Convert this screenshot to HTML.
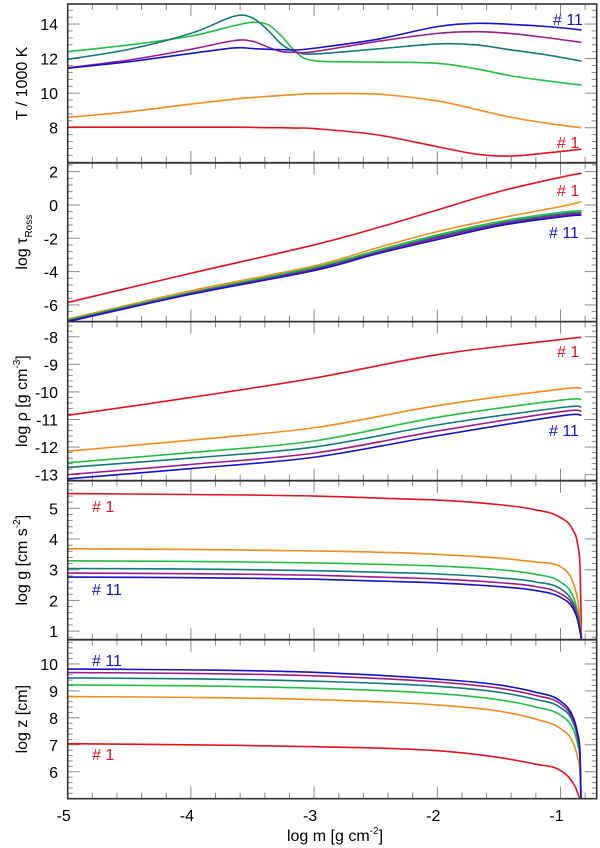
<!DOCTYPE html>
<html><head><meta charset="utf-8">
<style>
html,body{margin:0;padding:0;background:#fff;}
svg{display:block;font-family:"Liberation Sans",sans-serif;}
</style></head>
<body>
<svg id="chart" width="600" height="848" viewBox="0 0 600 848" xmlns="http://www.w3.org/2000/svg">
</svg>
<script>
// ---- data ----
const seriesNames = ["model-1","model-3","model-5","model-7","model-9","model-11"];
const seriesColors = ["#e3121c","#f28c1c","#22c040","#137a7a","#9c1c8c","#1414c8"];

const xT = [-5,-4.5,-4,-3.65,-3.5,-3.37,-3.26,-3.15,-3,-2.5,-2,-1.68,-1.4,-1.1,-0.83];
const tRed    = [8.03,8.03,8.03,8.03,8.02,8.0,8.0,7.98,7.95,7.6,6.9,6.47,6.36,6.55,6.76];
const tOrange = [8.6,8.93,9.37,9.65,9.75,9.82,9.87,9.92,9.97,9.95,9.55,9.05,8.6,8.25,8.0];
const tGreen  = [12.4,12.79,13.3,13.9,14.1,13.95,13.27,12.4,11.88,11.8,11.73,11.4,11.0,10.7,10.47];
const tTeal   = [11.96,12.54,13.46,14.45,14.35,13.6,12.8,12.4,12.27,12.55,12.85,12.79,12.5,12.2,11.86];
const tPurple = [11.47,11.92,12.54,13.04,13.0,12.65,12.4,12.36,12.4,12.98,13.46,13.56,13.45,13.2,12.94];
const tBlue   = [11.44,11.82,12.3,12.62,12.58,12.54,12.52,12.5,12.6,13.1,13.85,14.04,13.98,13.85,13.66];

const xTau = [-5,-4,-3,-2.5,-2,-1.5,-1,-0.83];
const tauRed    = [-5.85,-4.1,-2.4,-1.4,-0.3,0.8,1.66,1.9];
const tauOrange = [-6.85,-5.15,-3.66,-2.6,-1.6,-0.8,-0.1,0.2];
const tauGreen  = [-6.9,-5.25,-3.75,-2.75,-1.8,-1.0,-0.45,-0.34];
const tauTeal   = [-6.95,-5.3,-3.83,-2.85,-1.9,-1.1,-0.55,-0.44];
const tauPurple = [-6.98,-5.33,-3.88,-2.9,-1.98,-1.18,-0.63,-0.53];
const tauBlue   = [-7.0,-5.36,-3.94,-2.95,-2.08,-1.25,-0.72,-0.6];

const xRho = [-5,-4,-3,-2,-1,-0.83];
const rhoRed    = [-10.85,-10.2,-9.5,-8.65,-8.1,-8.02];
const rhoOrange = [-12.15,-11.75,-11.3,-10.5,-9.9,-9.87];
const rhoGreen  = [-12.57,-12.2,-11.78,-10.92,-10.3,-10.28];
const rhoTeal   = [-12.74,-12.4,-12.0,-11.2,-10.57,-10.55];
const rhoPurple = [-13.0,-12.63,-12.22,-11.42,-10.72,-10.7];
const rhoBlue   = [-13.15,-12.78,-12.37,-11.59,-10.87,-10.85];

const xG = [-5,-4,-3,-2.3,-2,-1.5,-1.2,-1,-0.9,-0.86,-0.84,-0.83];
const gRed    = [5.48,5.45,5.4,5.31,5.27,5.12,4.95,4.7,4.3,3.8,2.9,0.72];
const gOrange = [3.68,3.66,3.61,3.55,3.5,3.38,3.25,3.1,2.6,2.0,1.3,0.72];
const gGreen  = [3.29,3.27,3.22,3.16,3.12,3.0,2.85,2.6,2.15,1.6,1.1,0.72];
const gTeal   = [3.04,3.02,2.97,2.9,2.86,2.74,2.6,2.38,1.95,1.5,1.05,0.72];
const gPurple = [2.89,2.87,2.82,2.74,2.7,2.58,2.45,2.22,1.85,1.4,1.0,0.72];
const gBlue   = [2.76,2.74,2.69,2.61,2.57,2.45,2.32,2.1,1.75,1.35,0.95,0.72];

const xZ = [-5,-4,-3,-2,-1.5,-1.2,-1,-0.9,-0.86,-0.84,-0.83];
const zRed    = [7.04,7.0,6.93,6.78,6.53,6.28,6.05,5.6,5.2,4.8,4.0];
const zOrange = [8.79,8.76,8.68,8.48,8.25,7.95,7.6,7.1,6.5,5.8,4.0];
const zGreen  = [9.22,9.19,9.1,8.9,8.67,8.4,8.1,7.6,7.0,6.2,4.0];
const zTeal   = [9.48,9.45,9.36,9.17,8.95,8.68,8.38,7.85,7.2,6.3,4.0];
const zPurple = [9.68,9.65,9.56,9.33,9.1,8.83,8.52,7.95,7.3,6.4,4.0];
const zBlue   = [9.81,9.78,9.69,9.44,9.22,8.95,8.62,8.05,7.4,6.5,4.0];

const xTickLabels = ["-5","-4","-3","-2","-1"];

// ---- layout ----
const NS = "http://www.w3.org/2000/svg";
const svg = document.getElementById("chart");
const X0 = 67.7, X1 = 596.7, XMIN = -5, XMAX = -5 + (X1 - X0) / 123.2;
function xs(v){ return X0 + (v - XMIN) * 123.2; }

const panels = [
  {name:"temperature", top:4, bot:162.8, ymin:5.97, ymax:15.16, major:2, minor:0.4, ticks:[8,10,12,14],
   xd:xT, ys:[tRed,tOrange,tGreen,tTeal,tPurple,tBlue], smooth:"cr", lab1:[557,148], lab11:[553,25]},
  {name:"tau-ross", top:162.8, bot:321.6, ymin:-7.0, ymax:2.53, major:2, minor:0.4, ticks:[-6,-4,-2,0,2],
   xd:xTau, ys:[tauRed,tauOrange,tauGreen,tauTeal,tauPurple,tauBlue], smooth:"cr", lab1:[557,196], lab11:[549,238]},
  {name:"density", top:321.6, bot:480.7, ymin:-13.22, ymax:-7.45, major:1, minor:0.2, ticks:[-13,-12,-11,-10,-9,-8],
   xd:xRho, ys:[rhoRed,rhoOrange,rhoGreen,rhoTeal,rhoPurple,rhoBlue], smooth:"cr", lab1:[557,357], lab11:[549,436]},
  {name:"gravity", top:480.7, bot:639.7, ymin:0.72, ymax:5.9, major:1, minor:0.2, ticks:[1,2,3,4,5],
   xd:xG, ys:[gRed,gOrange,gGreen,gTeal,gPurple,gBlue], smooth:"mono", lab1:[92,512], lab11:[92,595]},
  {name:"height", top:639.7, bot:798.7, ymin:5.0, ymax:10.9, major:1, minor:0.2, ticks:[6,7,8,9,10],
   xd:xZ, ys:[zRed,zOrange,zGreen,zTeal,zPurple,zBlue], smooth:"mono", lab1:[92,760], lab11:[92,666]}
];

function el(tag, attrs, parent){
  const e = document.createElementNS(NS, tag);
  for (const k in attrs) e.setAttribute(k, attrs[k]);
  (parent||svg).appendChild(e);
  return e;
}

function crPath(px, py){
  const n = px.length;
  let p = "M"+px[0].toFixed(2)+","+py[0].toFixed(2);
  for (let i=0;i<n-1;i++){
    const x0 = i>0?px[i-1]:px[i], y0 = i>0?py[i-1]:py[i];
    const x3 = i<n-2?px[i+2]:px[i+1], y3 = i<n-2?py[i+2]:py[i+1];
    const c1x = px[i]+(px[i+1]-x0)/6, c1y = py[i]+(py[i+1]-y0)/6;
    const c2x = px[i+1]-(x3-px[i])/6, c2y = py[i+1]-(y3-py[i])/6;
    p += " C"+c1x.toFixed(2)+","+c1y.toFixed(2)+" "+c2x.toFixed(2)+","+c2y.toFixed(2)+" "+px[i+1].toFixed(2)+","+py[i+1].toFixed(2);
  }
  return p;
}

function monoPath(px, py){
  const n = px.length, d = [], m = new Array(n);
  for (let i=0;i<n-1;i++) d.push((py[i+1]-py[i])/(px[i+1]-px[i]));
  m[0]=d[0]; m[n-1]=d[n-2];
  for (let i=1;i<n-1;i++){ m[i] = (d[i-1]*d[i] <= 0) ? 0 : (d[i-1]+d[i])/2; }
  for (let i=0;i<n-1;i++){
    if (d[i]===0){ m[i]=0; m[i+1]=0; continue; }
    const a=m[i]/d[i], b=m[i+1]/d[i], s=a*a+b*b;
    if (s>9){ const t=3/Math.sqrt(s); m[i]=t*a*d[i]; m[i+1]=t*b*d[i]; }
  }
  let p = "M"+px[0].toFixed(2)+","+py[0].toFixed(2);
  for (let i=0;i<n-1;i++){
    const h=px[i+1]-px[i];
    p += " C"+(px[i]+h/3).toFixed(2)+","+(py[i]+m[i]*h/3).toFixed(2)+" "+(px[i+1]-h/3).toFixed(2)+","+(py[i+1]-m[i+1]*h/3).toFixed(2)+" "+px[i+1].toFixed(2)+","+py[i+1].toFixed(2);
  }
  return p;
}

const defs = el("defs", {});
panels.forEach((P, pi) => {
  const g = el("g", {});
  
  
  const ys = v => P.bot - (v - P.ymin) / (P.ymax - P.ymin) * (P.bot - P.top);

  const cp = el("clipPath", {id:"clip"+pi}, defs);
  el("rect", {x:X0, y:P.top, width:X1-X0, height:P.bot-P.top}, cp);

  for (let k=0; k<=Math.round((XMAX-XMIN)/0.2); k++){
    const v = XMIN + k*0.2; if (v > XMAX) break;
    const isMaj = Math.abs(v - Math.round(v)) < 1e-6;
    const L = isMaj ? 12 : 6, x = xs(v);
    const t1 = el("line", {x1:x, x2:x, y1:P.bot, y2:P.bot-L, stroke:"#8a8a8a", "stroke-width":1}, g);
    
    
    const t2 = el("line", {x1:x, x2:x, y1:P.top, y2:P.top+L, stroke:"#8a8a8a", "stroke-width":1}, g);
    
    
  }
  const nMin = Math.ceil(P.ymin / P.minor - 1e-6), nMax = Math.floor(P.ymax / P.minor + 1e-6);
  for (let k=nMin; k<=nMax; k++){
    const v = k*P.minor;
    const isMaj = Math.abs(v/P.major - Math.round(v/P.major)) < 1e-6;
    const L = isMaj ? 12 : 5, y = ys(v);
    const t1 = el("line", {x1:X0, x2:X0+L, y1:y, y2:y, stroke:"#8a8a8a", "stroke-width":1}, g);
    
    
    const t2 = el("line", {x1:X1, x2:X1-L, y1:y, y2:y, stroke:"#8a8a8a", "stroke-width":1}, g);
    
    
  }
  P.ticks.forEach(v => {
    const t = el("text", {x:58, y:ys(v)+6, "text-anchor":"end", "font-size":16, fill:"#000"}, g);
    t.textContent = String(v);
    
    
  });

  const sg = el("g", {"clip-path":"url(#clip"+pi+")"}, g);
  P.ys.forEach((arr, si) => {
    const px = P.xd.map(xs), py = arr.map(ys);
    const d = P.smooth === "cr" ? crPath(px, py) : monoPath(px, py);
    const path = el("path", {d:d, fill:"none", stroke:seriesColors[si], "stroke-width":1.6}, sg);
    
    
  });

  const l1 = el("text", {x:P.lab1[0], y:P.lab1[1], "font-size":16, fill:seriesColors[0]}, g);
  l1.textContent = "# 1";
  
  
  const l11 = el("text", {x:P.lab11[0], y:P.lab11[1], "font-size":16, fill:seriesColors[5]}, g);
  l11.textContent = "# 11";
  
  

  const cy = (P.top + P.bot)/2;
  const yt = el("text", {x:0, y:0, "font-size":16, fill:"#000", "text-anchor":"middle",
    transform:"translate(27,"+cy+") rotate(-90)"}, g);
  
  
  if (P.name === "temperature"){ yt.textContent = "T / 1000 K"; }
  else if (P.name === "tau-ross"){
    yt.innerHTML = 'log τ<tspan font-size="10" dy="5">Ross</tspan>';
  } else if (P.name === "density"){
    yt.innerHTML = 'log ρ [g cm<tspan font-size="10" dy="-7">-3</tspan><tspan dy="7">]</tspan>';
  } else if (P.name === "gravity"){
    yt.innerHTML = 'log g [cm s<tspan font-size="10" dy="-7">-2</tspan><tspan dy="7">]</tspan>';
  } else {
    yt.textContent = "log z [cm]";
  }
});

const frame = el("g", {});


el("rect", {x:X0, y:4, width:X1-X0, height:798.7-4, fill:"none", stroke:"#333", "stroke-width":1.6}, frame);
[162.8, 321.6, 480.7, 639.7].forEach(y => {
  el("line", {x1:X0, x2:X1, y1:y, y2:y, stroke:"#333", "stroke-width":1.8}, frame);
});

xTickLabels.forEach(s => {
  const t = el("text", {x:xs(parseFloat(s))-4, y:821, "text-anchor":"middle", "font-size":16, fill:"#000"});
  t.textContent = s;
  
  
});
const xt = el("text", {x:335, y:841, "text-anchor":"middle", "font-size":16, fill:"#000"});
xt.innerHTML = 'log m [g cm<tspan font-size="10" dy="-7">-2</tspan><tspan dy="7">]</tspan>';


</script>
</body></html>
